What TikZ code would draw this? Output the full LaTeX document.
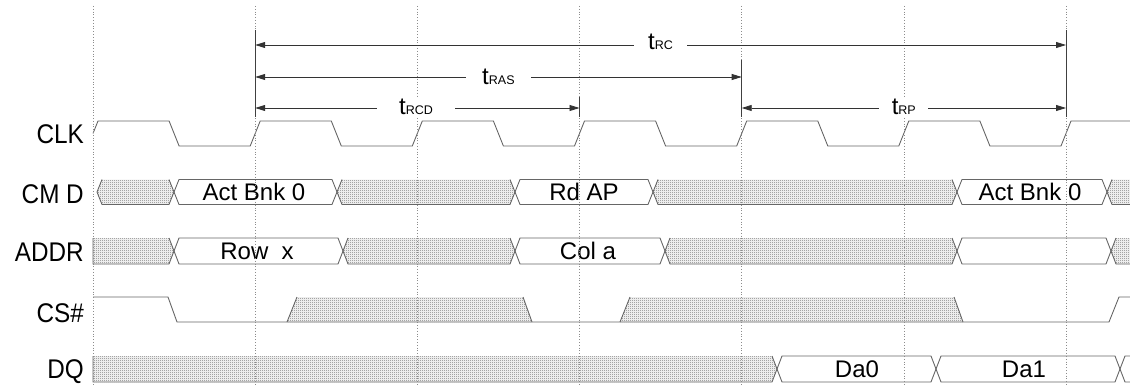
\documentclass[tikz,border=0pt]{standalone}
\usepackage{fontspec}
\setmainfont{Liberation Sans}
\newfontfamily\lblfont{Liberation Sans}[FakeStretch=0.9]
\usetikzlibrary{arrows.meta,patterns.meta}
\tikzdeclarepattern{
  name=stipple,
  type=uncolored,
  bottom left={(0pt,0pt)},
  top right={(2pt,2pt)},
  tile size={(2pt,2pt)},
  code={\pgfpathrectangle{\pgfpointorigin}{\pgfpoint{1pt}{1pt}}%
        \pgfpathrectangle{\pgfpoint{1pt}{1pt}}{\pgfpoint{1pt}{1pt}}%
        \pgfusepath{fill}}
}
\tikzset{
  wave/.style={draw=black!60, line width=0.9pt, line join=miter},
  shd/.style={pattern={stipple}, pattern color=black!55},
  gridln/.style={draw=black!45, line width=0.7pt, dash pattern=on 0.8pt off 2pt},
  extln/.style={draw=black!75, line width=0.9pt},
  dimln/.style={draw=black!80, line width=0.8pt,
    {Triangle[length=10pt,width=6pt]}-{Triangle[length=10pt,width=6pt]}},
  sig/.style={font=\lblfont\fontsize{27}{27}\selectfont, anchor=base east, inner sep=0pt},
  btxt/.style={font=\fontsize{24}{24}\selectfont, inner sep=0pt},
  tlab/.style={fill=white, anchor=base, inner ysep=1pt},
}
\newcommand\tl[1]{{\fontsize{24}{24}\selectfont t}{\fontsize{12.5}{12.5}\selectfont #1}}
% shaded hexagon: a b top mid bottom
\newcommand\ShHex[5]{%
  \fill[shd] (#1,#4) -- ({#1+5},#3) -- ({#2-5},#3) -- (#2,#4) -- ({#2-5},#5) -- ({#1+5},#5) -- cycle;
  \draw[wave] ({#1+5},#3) -- (#1,#4) -- ({#1+5},#5) -- ({#2-5},#5) -- (#2,#4) -- ({#2-5},#3);}
% white hexagon
\newcommand\WhHex[5]{%
  \draw[wave] (#1,#4) -- ({#1+5},#3) -- ({#2-5},#3) -- (#2,#4) -- ({#2-5},#5) -- ({#1+5},#5) -- cycle;}
% shaded block with straight left edge
\newcommand\ShStart[5]{%
  \fill[shd] (#1,#3) -- ({#2-5},#3) -- (#2,#4) -- ({#2-5},#5) -- (#1,#5) -- cycle;
  \draw[wave] (#1,#3) -- (#1,#5) -- ({#2-5},#5) -- (#2,#4) -- ({#2-5},#3);}
\begin{document}
\begin{tikzpicture}[x=1pt,y=-1pt]
\useasboundingbox (0,0) rectangle (1130,385);
\clip (0,0) rectangle (1130,385);
% grid coordinates
\foreach \k in {0,...,6}{
  \coordinate (gt\k) at ({93+162.17*\k},6);
  \coordinate (gb\k) at ({93+162.17*\k},385);
}
% ---------- signal labels
\node[sig] (lclk) at (84,143) {CLK};
\node[sig] (lcmd) at (84,203) {CM D};
\node[sig] (laddr) at (84,261) {ADDR};
\node[sig] (lcs) at (84,322) {CS\#};
\node[sig] (ldq) at (84,378) {DQ};
% ---------- CLK
\draw[wave] (93,133.5) -- (98,121) -- (169.1,121) -- (179.1,146) -- (250.2,146) -- (260.2,121)
  -- (331.3,121) -- (341.3,146) -- (412.3,146) -- (422.3,121) -- (493.4,121) -- (503.4,146)
  -- (574.5,146) -- (584.5,121) -- (655.6,121) -- (665.6,146) -- (736.7,146) -- (746.7,121)
  -- (817.8,121) -- (827.8,146) -- (898.8,146) -- (908.8,121) -- (979.9,121) -- (989.9,146)
  -- (1061,146) -- (1071,121) -- (1140,121);
% ---------- CMD
\ShHex{97}{174}{179.5}{192}{204.5}
\WhHex{174}{337}{179.5}{192}{204.5}
\ShHex{337}{515}{179.5}{192}{204.5}
\WhHex{515}{653}{179.5}{192}{204.5}
\ShHex{653}{957}{179.5}{192}{204.5}
\WhHex{957}{1107}{179.5}{192}{204.5}
\ShHex{1107}{1160}{179.5}{192}{204.5}
\node[btxt] (c1) at (254,192) {Act Bnk 0};
\node[btxt] (c2) at (584,192) {Rd AP};
\node[btxt] (c3) at (1030,192) {Act Bnk 0};
% ---------- ADDR
\ShStart{93}{174}{238}{251}{264}
\WhHex{174}{343}{238}{251}{264}
\ShHex{343}{515}{238}{251}{264}
\WhHex{515}{665}{238}{251}{264}
\ShHex{665}{957}{238}{251}{264}
\WhHex{957}{1111}{238}{251}{264}
\ShHex{1111}{1160}{238}{251}{264}
\node[btxt] (a1) at (257,251) {Row\ \ x};
\node[btxt] (a2) at (588,251) {Col a};
% ---------- CS#
\fill[shd] (287,322) -- (297,297) -- (523,297) -- (532,322) -- cycle;
\fill[shd] (620,322) -- (630,297) -- (954,297) -- (963,322) -- cycle;
\draw[wave] (287,322) -- (297,297);
\draw[wave] (523,297) -- (532,322);
\draw[wave] (620,322) -- (630,297);
\draw[wave] (954,297) -- (963,322);
\draw[wave] (93,297) -- (168,297) -- (177,322) -- (1109,322) -- (1119,297) -- (1140,297);
% ---------- DQ
\ShStart{93}{777}{356}{369}{382}
\WhHex{777}{936}{356}{369}{382}
\WhHex{936}{1120}{356}{369}{382}
\WhHex{1120}{1200}{356}{369}{382}
\node[btxt] (d0) at (857,369) {Da0};
\node[btxt] (d1) at (1024,369) {Da1};
% ---------- grid
\foreach \k in {0,...,6}{\draw[gridln] (gt\k) -- (gb\k);}
% ---------- extension lines
\coordinate (e1a) at (255.2,30);  \coordinate (e1b) at (255.2,117);
\coordinate (e3a) at (579.5,97);  \coordinate (e3b) at (579.5,117);
\coordinate (e4a) at (741.7,60);  \coordinate (e4b) at (741.7,117);
\coordinate (e6a) at (1066,30);   \coordinate (e6b) at (1066,117);
\draw[extln] (e1a) -- (e1b);
\draw[extln] (e3a) -- (e3b);
\draw[extln] (e4a) -- (e4b);
\draw[extln] (e6a) -- (e6b);
% ---------- timing arrows
\coordinate (rcL) at (255.2,45);  \coordinate (rcR) at (1066,45);
\coordinate (rasL) at (255.2,77); \coordinate (rasR) at (741.7,77);
\coordinate (rcdL) at (255.2,108); \coordinate (rcdR) at (579.5,108);
\coordinate (rpL) at (741.7,108); \coordinate (rpR) at (1066,108);
\draw[dimln] (rcL) -- (rcR);
\draw[dimln] (rasL) -- (rasR);
\draw[dimln] (rcdL) -- (rcdR);
\draw[dimln] (rpL) -- (rpR);
\node[tlab, inner xsep=14pt] (trc) at (660.6,49.5) {\tl{RC}};
\node[tlab, inner xsep=16pt] (tras) at (498.4,85) {\tl{RAS}};
\node[tlab, inner xsep=22pt] (trcd) at (416,115) {\tl{RCD}};
\node[tlab, inner xsep=12.5pt] (trp) at (903.8,115) {\tl{RP}};
\end{tikzpicture}
\end{document}
